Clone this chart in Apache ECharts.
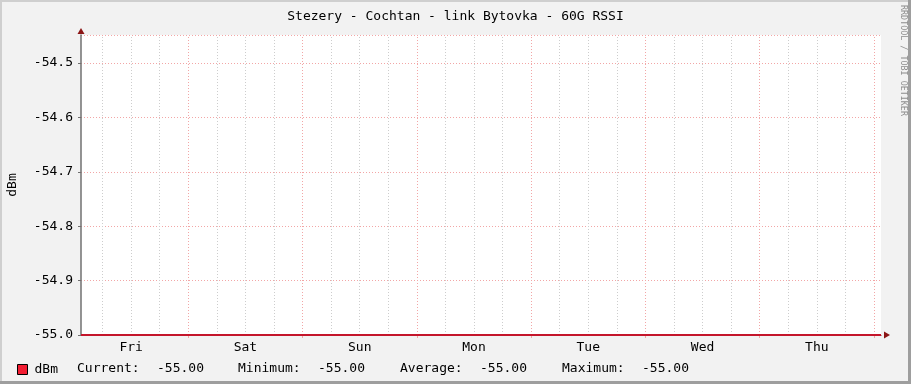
<!DOCTYPE html>
<html>
<head>
<meta charset="utf-8">
<script src="https://cdn.jsdelivr.net/npm/echarts@6/dist/echarts.min.js"></script>
<style>
html,body{margin:0;padding:0;background:#f2f2f2;}
#c{width:911px;height:384px;}
</style>
</head>
<body>
<div id="c"></div>
<script>
// ---- data ----
const TITLE = 'Stezery - Cochtan - link Bytovka - 60G RSSI';
const DAYS = ['Fri', 'Sat', 'Sun', 'Mon', 'Tue', 'Wed', 'Thu'];
// time in hours since Friday 00:00
const X_START = 1.47;
const X_END = 169.47;
const DBM_HOURS = [1.47, 169.47];
const DBM_VALUES = [-55.0, -55.0];
const Y_MIN = -55.0;
const Y_MAX = -54.4485;
const STAT_LABELS = ['Current:', 'Minimum:', 'Average:', 'Maximum:'];
const STAT_VALUES = [-55.00, -55.00, -55.00, -55.00];
const SERIES_NAME = 'dBm';

const MONO = '"DejaVu Sans Mono", monospace';

// grid line positions derived from the day structure
const majorHours = [], minorHours = [], noonHours = [];
for (let d = 0; d <= DAYS.length; d++) {
  for (let q = 0; q < 4; q++) {
    const h = d * 24 + q * 6;
    if (h < X_START || h > X_END) continue;
    if (q === 0) majorHours.push(h); else minorHours.push(h);
  }
}
DAYS.forEach((_, i) => noonHours.push(12 + 24 * i));

const gridLines = [];
minorHours.forEach(h => gridLines.push({ xAxis: h, lineStyle: { color: '#cdcdcd', type: [1, 2], width: 1 } }));
majorHours.forEach(h => gridLines.push({ xAxis: h, lineStyle: { color: '#f2a6a6', type: [1, 2], width: 1 } }));

const statX = [[77, 157], [238, 318], [400, 480], [562, 642]];
const graphics = [
  // frame shading
  { type: 'rect', shape: { x: 0, y: 0, width: 911, height: 2 }, style: { fill: '#cfcfcf' }, z: 10 },
  { type: 'rect', shape: { x: 0, y: 0, width: 2, height: 384 }, style: { fill: '#cfcfcf' }, z: 10 },
  { type: 'rect', shape: { x: 908, y: 0, width: 3, height: 384 }, style: { fill: '#9e9e9e' }, z: 11 },
  { type: 'rect', shape: { x: 0, y: 381, width: 911, height: 3 }, style: { fill: '#9e9e9e' }, z: 11 },
  // watermark
  { type: 'text', x: 903, y: 5, rotation: -Math.PI / 2,
    style: { text: 'RRDTOOL / TOBI OETIKER', font: '8.4px ' + MONO, fill: '#8e8e8e', align: 'left', verticalAlign: 'middle' } }
];
STAT_LABELS.forEach((lab, i) => {
  graphics.push({ type: 'text', x: statX[i][0], y: 369,
    style: { text: lab, font: '13px ' + MONO, fill: '#000', align: 'left', verticalAlign: 'middle' } });
  graphics.push({ type: 'text', x: statX[i][1], y: 369,
    style: { text: STAT_VALUES[i].toFixed(2), font: '13px ' + MONO, fill: '#000', align: 'left', verticalAlign: 'middle' } });
});

const chart = echarts.init(document.getElementById('c'), null, { renderer: 'canvas' });
chart.setOption({
  animation: false,
  backgroundColor: '#f2f2f2',
  title: {
    text: TITLE, left: 'center', top: 5,
    textStyle: { fontFamily: MONO, fontSize: 13, fontWeight: 'normal', color: '#000' }
  },
  legend: {
    left: 12, top: 358, icon: 'rect', itemWidth: 10, itemHeight: 10, itemGap: 10,
    textStyle: { fontFamily: MONO, fontSize: 13, color: '#000', padding: [0, 0, 0, 2] },
    data: [{ name: SERIES_NAME, itemStyle: { color: '#f21d32', borderColor: '#000', borderWidth: 1 } }]
  },
  grid: { left: 81, top: 35, width: 800, height: 300, backgroundColor: '#fff', show: true, borderWidth: 0,
    containLabel: false, outerBoundsMode: 'none' },
  xAxis: [{
    type: 'value', min: X_START, max: X_END,
    axisLine: { show: true, lineStyle: { color: '#8b1515', width: 1 }, symbol: ['none', 'triangle'], symbolSize: [7, 6], symbolOffset: [0, 6] },
    axisTick: { show: true, customValues: majorHours, length: 3, lineStyle: { color: '#f2a6a6' } },
    axisLabel: { customValues: noonHours, margin: 6, fontFamily: MONO, fontSize: 13, color: '#000',
      formatter: v => DAYS[Math.round((v - 12) / 24)] || '' },
    splitLine: { show: false }
  }],
  yAxis: [{
    type: 'value', min: Y_MIN, max: Y_MAX, interval: 0.1,
    name: 'dBm', nameLocation: 'middle', nameGap: 62,
    nameTextStyle: { fontFamily: MONO, fontSize: 13, color: '#000' },
    axisLine: { show: true, lineStyle: { color: '#707070', width: 1.5 } },
    axisTick: { show: true, length: 3, lineStyle: { color: '#707070' } },
    axisLabel: { margin: 8, fontFamily: MONO, fontSize: 13, color: '#000', showMaxLabel: false,
      formatter: v => v.toFixed(1) },
    splitLine: { show: true, lineStyle: { color: '#f2a6a6', type: [1, 2], width: 1 } }
  }, {
    type: 'value', min: Y_MIN, max: Y_MAX, position: 'left', offset: 0,
    axisLine: { show: true, lineStyle: { color: '#8b1515', width: 0 }, symbol: ['none', 'triangle'], symbolSize: [7, 6], symbolOffset: [0, 4] },
    axisTick: { show: false }, axisLabel: { show: false }, splitLine: { show: false }
  }],
  series: [{
    type: 'line', name: 'grid', data: [], silent: true, z: 1,
    markLine: { silent: true, symbol: 'none', label: { show: false }, animation: false, data: gridLines }
  }, {
    type: 'line', name: SERIES_NAME, z: 5,
    data: DBM_HOURS.map((h, i) => [h, DBM_VALUES[i]]),
    showSymbol: false, symbol: 'none',
    lineStyle: { color: '#c4152b', width: 2 },
    itemStyle: { color: '#f21d32' }
  }],
  graphic: graphics
});
</script>
</body>
</html>
